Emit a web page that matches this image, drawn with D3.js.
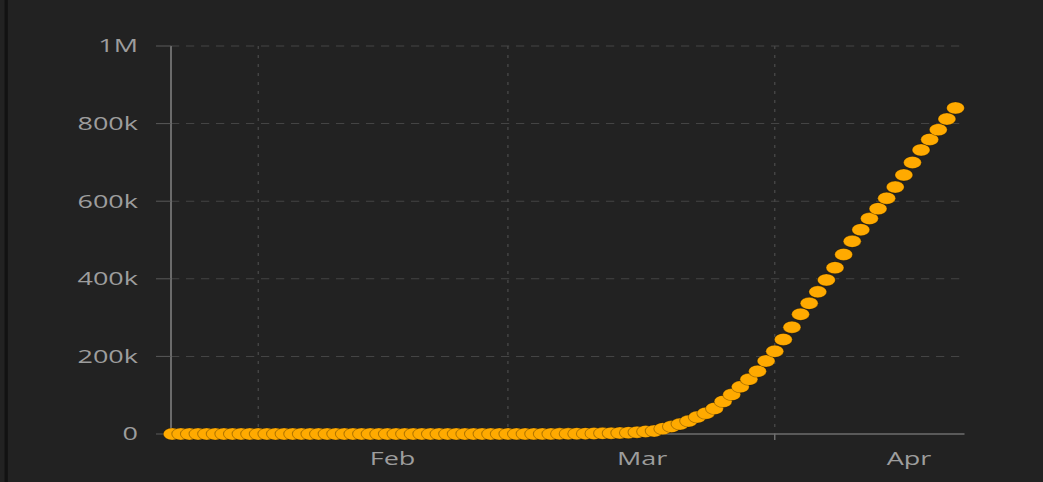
<!DOCTYPE html>
<html>
<head>
<meta charset="utf-8">
<script src="https://cdn.jsdelivr.net/npm/d3@7"></script>
<style>
  html, body { margin: 0; padding: 0; background: #222222; overflow: hidden; }
  svg { display: block; }
  text { font-family: "Open Sans", sans-serif; fill: #9d9d9d; }
</style>
</head>
<body>
<div id="chart"></div>
<script>
"use strict";

// cumulative confirmed cases, one value per day
const dates = [
  "2020-01-22","2020-01-23","2020-01-24","2020-01-25","2020-01-26","2020-01-27","2020-01-28","2020-01-29","2020-01-30","2020-01-31",
  "2020-02-01","2020-02-02","2020-02-03","2020-02-04","2020-02-05","2020-02-06","2020-02-07","2020-02-08","2020-02-09","2020-02-10",
  "2020-02-11","2020-02-12","2020-02-13","2020-02-14","2020-02-15","2020-02-16","2020-02-17","2020-02-18","2020-02-19","2020-02-20",
  "2020-02-21","2020-02-22","2020-02-23","2020-02-24","2020-02-25","2020-02-26","2020-02-27","2020-02-28","2020-02-29",
  "2020-03-01","2020-03-02","2020-03-03","2020-03-04","2020-03-05","2020-03-06","2020-03-07","2020-03-08","2020-03-09","2020-03-10",
  "2020-03-11","2020-03-12","2020-03-13","2020-03-14","2020-03-15","2020-03-16","2020-03-17","2020-03-18","2020-03-19","2020-03-20",
  "2020-03-21","2020-03-22","2020-03-23","2020-03-24","2020-03-25","2020-03-26","2020-03-27","2020-03-28","2020-03-29","2020-03-30",
  "2020-03-31","2020-04-01","2020-04-02","2020-04-03","2020-04-04","2020-04-05","2020-04-06","2020-04-07","2020-04-08","2020-04-09",
  "2020-04-10","2020-04-11","2020-04-12","2020-04-13","2020-04-14","2020-04-15","2020-04-16","2020-04-17","2020-04-18","2020-04-19",
  "2020-04-20","2020-04-21","2020-04-22"
];
const cases = [
  1, 1, 2, 2, 5, 5, 5, 6, 6, 8,
  8, 8, 11, 11, 12, 12, 12, 12, 12, 12,
  13, 13, 15, 15, 15, 15, 15, 15, 15, 15,
  35, 35, 35, 53, 57, 60, 60, 62, 70,
  76, 101, 122, 153, 221, 278, 417, 537, 605, 959,
  1281, 1663, 2179, 2726, 3499, 4632, 6421, 7786, 13680, 19101,
  25493, 33272, 43847, 53740, 65778, 83836, 101657, 121465, 140909, 161831,
  188172, 213242, 243622, 275367, 308650, 336802, 366317, 397121, 428654, 462780,
  496535, 526396, 555313, 580619, 607670, 636350, 667801, 699706, 732197, 759086,
  784326, 811865, 840351
];
const yTicks = [0, 200000, 400000, 600000, 800000, 1000000];
const monthTicks = ["2020-02-01", "2020-03-01", "2020-04-01"];

// the chart is drawn narrow and stretched sideways to fill the window
const stretch = 1.5;
const W = 1043, H = 482;
const vw = W / stretch;

const parse = d3.timeParse("%Y-%m-%d");
const points = dates.map((d, i) => ({ date: parse(d), value: cases[i] }));
const months = monthTicks.map(parse);

const axisLeftX = 114;
const plotRight = 643;
const plotTop = 46, plotBottom = 434;

const x = d3.scaleTime()
  .domain(d3.extent(points, d => d.date))
  .range([114.8, 637]);
const y = d3.scaleLinear().domain([0, 1000000]).range([plotBottom, plotTop]);
const fmt = d3.format("~s");

const svg = d3.select("#chart").append("svg")
  .attr("width", W)
  .attr("height", H)
  .attr("viewBox", `0 0 ${vw} ${H}`)
  .attr("preserveAspectRatio", "none");

svg.append("rect").attr("width", vw).attr("height", H).attr("fill", "#222222");
// dark left frame edge
svg.append("rect").attr("x", 3).attr("y", 0).attr("width", 2.2).attr("height", H).attr("fill", "#121212");

// horizontal grid
svg.append("g")
  .selectAll("line")
  .data(yTicks.filter(d => d > 0))
  .join("line")
  .attr("x1", axisLeftX).attr("x2", plotRight)
  .attr("y1", d => y(d)).attr("y2", d => y(d))
  .attr("stroke", "#444")
  .attr("stroke-width", 1)
  .attr("stroke-dasharray", "5.5,4.5");

// vertical grid at month starts
svg.append("g")
  .selectAll("line")
  .data(months)
  .join("line")
  .attr("x1", d => x(d)).attr("x2", d => x(d))
  .attr("y1", plotTop).attr("y2", plotBottom)
  .attr("stroke", "#474747")
  .attr("stroke-width", 0.9)
  .attr("stroke-dasharray", "3,6");

// y axis
const yAxis = svg.append("g");
yAxis.append("line")
  .attr("x1", axisLeftX).attr("x2", axisLeftX)
  .attr("y1", plotTop).attr("y2", plotBottom)
  .attr("stroke", "#6e6e6e").attr("stroke-width", 1.3);
yAxis.selectAll("line.tick")
  .data(yTicks)
  .join("line")
  .attr("class", "tick")
  .attr("x1", axisLeftX - 10).attr("x2", axisLeftX)
  .attr("y1", d => y(d)).attr("y2", d => y(d))
  .attr("stroke", "#5a5a5a").attr("stroke-width", 1);
yAxis.selectAll("text")
  .data(yTicks)
  .join("text")
  .attr("x", axisLeftX - 22)
  .attr("y", d => y(d))
  .attr("dy", "0.36em")
  .attr("text-anchor", "end")
  .attr("font-size", 18)
  .text(d => fmt(d));

// x axis
const xAxis = svg.append("g");
xAxis.append("line")
  .attr("x1", axisLeftX).attr("x2", plotRight)
  .attr("y1", plotBottom).attr("y2", plotBottom)
  .attr("stroke", "#6e6e6e").attr("stroke-width", 1.3);
xAxis.selectAll("line.tick")
  .data(months)
  .join("line")
  .attr("class", "tick")
  .attr("x1", d => x(d)).attr("x2", d => x(d))
  .attr("y1", plotBottom).attr("y2", plotBottom + 6)
  .attr("stroke", "#6e6e6e").attr("stroke-width", 1);
xAxis.selectAll("text")
  .data(months)
  .join("text")
  .attr("x", d => x(new Date(+d + 15.6 * 864e5)))
  .attr("y", 465)
  .attr("text-anchor", "middle")
  .attr("font-size", 18)
  .text(d => d3.timeFormat("%b")(d));

// dots
svg.append("g")
  .selectAll("circle")
  .data(points)
  .join("circle")
  .attr("cx", d => x(d.date))
  .attr("cy", d => y(d.value))
  .attr("r", 6)
  .attr("fill", "#ffaa00")
  .attr("stroke", "rgba(0,0,0,0.3)")
  .attr("stroke-width", 0.7);
</script>
</body>
</html>
